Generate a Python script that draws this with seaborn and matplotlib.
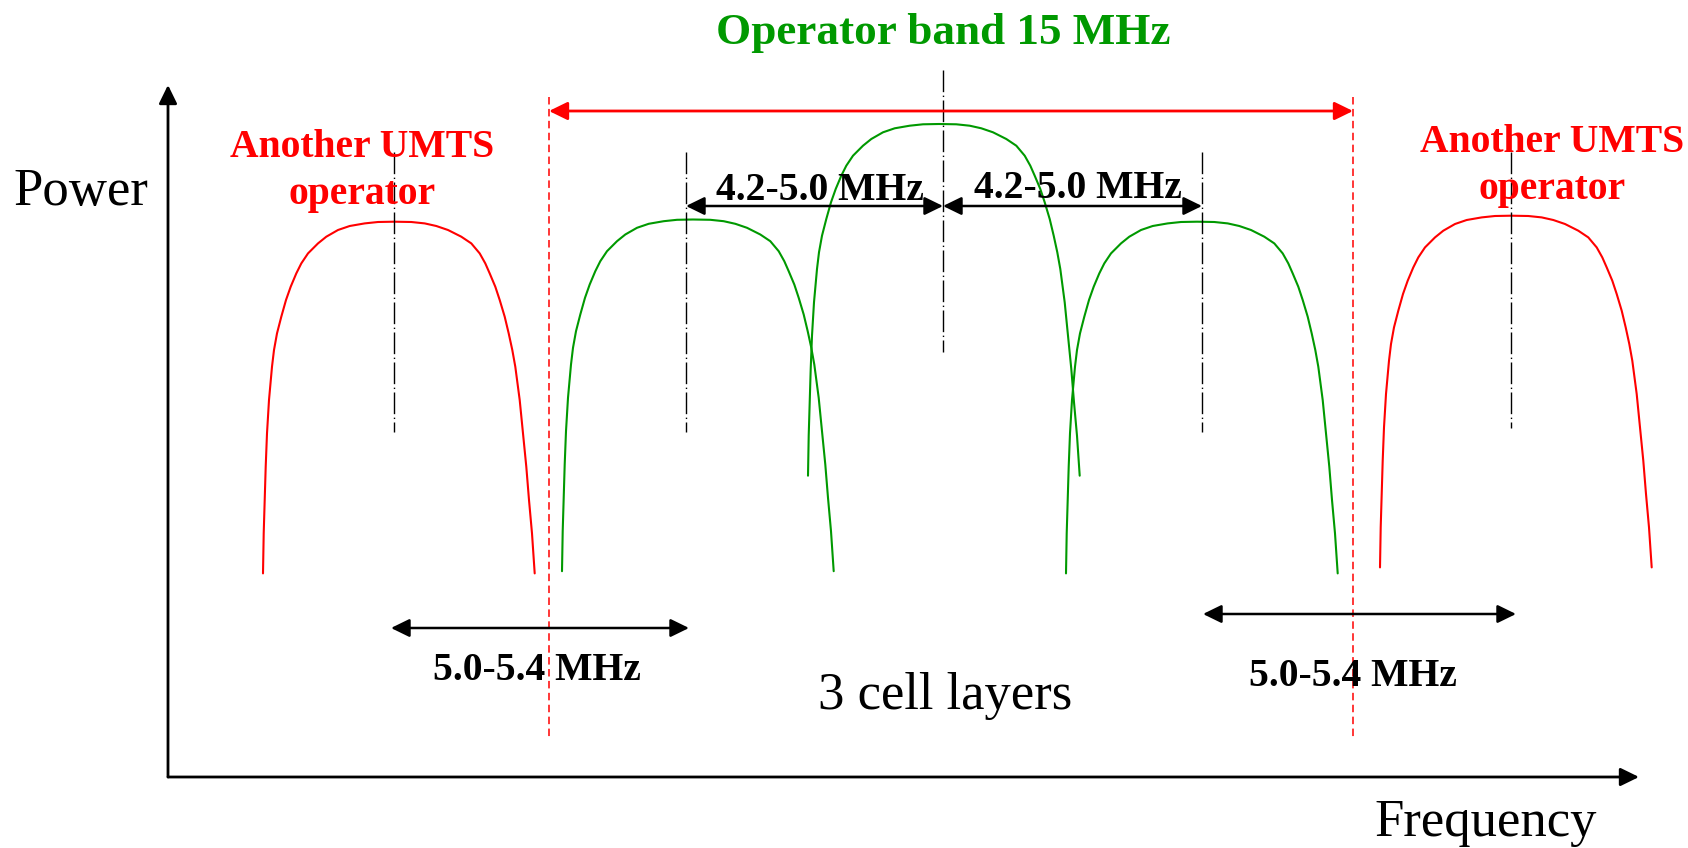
import pandas as pd
import numpy as np
import matplotlib
matplotlib.use("Agg")
import matplotlib.pyplot as plt
import seaborn as sns

# Set visual style
sns.set_theme(style="white")
plt.rcParams['font.family'] = ['Liberation Serif', 'DejaVu Serif']
plt.rcParams['text.color'] = 'black'

# ==========================================
# 1. DATA (pixel units, y grows downwards)
# ==========================================
# carrier spectra: position of the top of each bump
carriers = ['red_left', 'green_left', 'green_center', 'green_right', 'red_right']
peak_x = [394, 693, 939, 1197, 1511]
peak_y = [221.7, 219.5, 124, 221.7, 215.7]
carrier_colors = {'red_left': '#ff0000', 'green_left': '#009900', 'green_center': '#009900',
                  'green_right': '#009900', 'red_right': '#ff0000'}

# shape of one bump (offset from its top), traced from the left red carrier
shape_dx = [-131.0, -130.3, -129.3, -128.3, -127.0, -125.0, -122.0, -120.0, -117.0, -112.7,
            -108.0, -103.3, -97.7, -92.7, -86.0, -76.0, -67.7, -56.0, -44.3, -29.3, -16.0,
            0.0,
            17.3, 30.7, 42.3, 54.0, 67.3, 77.3, 85.7, 91.3, 95.7, 101.3, 105.7, 110.7,
            114.7, 118.3, 121.3, 125.7, 129.0, 132.3, 135.0, 138.0, 140.7]
shape_dy = [351.7, 311.7, 278.3, 245.0, 211.7, 178.3, 145.0, 128.3, 111.7, 95.0,
            78.3, 65.0, 51.7, 41.7, 31.7, 21.7, 15.0, 8.3, 4.3, 1.7, 0.3,
            0.0,
            0.3, 1.7, 4.3, 8.3, 15.0, 21.7, 31.7, 41.7, 51.7, 65.0, 78.3, 95.0,
            111.7, 128.3, 145.0, 178.3, 211.7, 245.0, 278.3, 311.7, 351.7]

# dash-dot carrier centre markers: x, top, bottom
center_x = [394, 686, 943, 1202, 1511]
center_top = [152, 152, 70, 152, 152]
center_bottom = [432, 432, 352, 432, 428]

# operator band edges (red dashed)
band_x = [549, 1353]
band_top, band_bottom, band_arrow_y = 97, 737, 111

# spacing arrows: (x start, x end, y)
spacing_4250 = [(686, 943, 206), (943, 1202, 206)]
spacing_5054 = [(391, 689, 628), (1203, 1516, 614)]

# axes origin and arrow tips
origin = (168, 777)
y_tip = 85
x_tip = 1639

# ==========================================
# 2. FIGURE
# ==========================================
fig = plt.figure(figsize=(16.88, 8.48), dpi=100)
ax = fig.add_axes([0, 0, 1, 1])

# --- carrier bumps ---
rows = []
for name, cx, cy in zip(carriers, peak_x, peak_y):
    for dx, dy in zip(shape_dx, shape_dy):
        rows.append({'carrier': name, 'x': cx + dx, 'y': cy + dy})
df = pd.DataFrame(rows)
sns.lineplot(data=df, x='x', y='y', hue='carrier', palette=carrier_colors, sort=False,
             estimator=None, legend=False, linewidth=1.5, ax=ax)
for ln in ax.lines:
    ln.set_solid_joinstyle('round')
ax.set_xlim(0, 1688)
ax.set_ylim(848, 0)
ax.set_axis_off()

# --- dash-dot centre lines ---
for x, t, b in zip(center_x, center_top, center_bottom):
    ax.plot([x, x], [t, b], color='black', lw=1.0, linestyle=(0, (15.6, 2.5, 1, 2.5)))

# --- band edges + band arrow ---
for x in band_x:
    ax.plot([x, x], [band_top, band_bottom], color='#ff0000', lw=1.1, linestyle=(0, (4.9, 2.9)))
ax.annotate('', xy=(band_x[1], band_arrow_y), xytext=(band_x[0], band_arrow_y),
            arrowprops=dict(arrowstyle='<|-|>,head_length=0.45,head_width=0.22',
                            mutation_scale=25, color='#ff0000', lw=2.0, shrinkA=0, shrinkB=0))

# --- spacing arrows ---
for x0, x1, y in spacing_4250 + spacing_5054:
    ax.annotate('', xy=(x1, y), xytext=(x0, y),
                arrowprops=dict(arrowstyle='<|-|>,head_length=0.45,head_width=0.22',
                                mutation_scale=25, color='black', lw=1.8, shrinkA=0, shrinkB=0))

# --- axes arrows ---
for tip in [(origin[0], y_tip), (x_tip, origin[1])]:
    ax.annotate('', xy=tip, xytext=origin,
                arrowprops=dict(arrowstyle='-|>,head_length=0.45,head_width=0.22',
                                mutation_scale=25, color='black', lw=2.0, shrinkA=0, shrinkB=0))

# --- texts ---
ax.text(13.5, 205, 'Power', fontsize=38, color='black', ha='left', va='baseline')
ax.text(1486, 836, 'Frequency', fontsize=38, color='black', ha='center', va='baseline')
ax.text(945, 708.5, '3 cell layers', fontsize=38, color='black', ha='center', va='baseline')
ax.text(943, 44, 'Operator band 15 MHz', fontsize=32.5, fontweight='bold', color='#009900',
        ha='center', va='baseline')
for cx, b1, b2 in [(362, 157.3, 204), (1552, 151.7, 199)]:
    ax.text(cx, b1, 'Another UMTS', fontsize=28.5, fontweight='bold', color='#ff0000',
            ha='center', va='baseline')
    ax.text(cx, b2, 'operator', fontsize=28.5, fontweight='bold', color='#ff0000',
            ha='center', va='baseline')
for cx, b in [(820, 200), (1078, 198.5)]:
    ax.text(cx, b, '4.2-5.0 MHz', fontsize=28.5, fontweight='bold', color='black',
            ha='center', va='baseline')
for cx, b in [(537, 680), (1353, 686)]:
    ax.text(cx, b, '5.0-5.4 MHz', fontsize=28.5, fontweight='bold', color='black',
            ha='center', va='baseline')

fig.savefig('out.png', dpi=100, facecolor='white')
